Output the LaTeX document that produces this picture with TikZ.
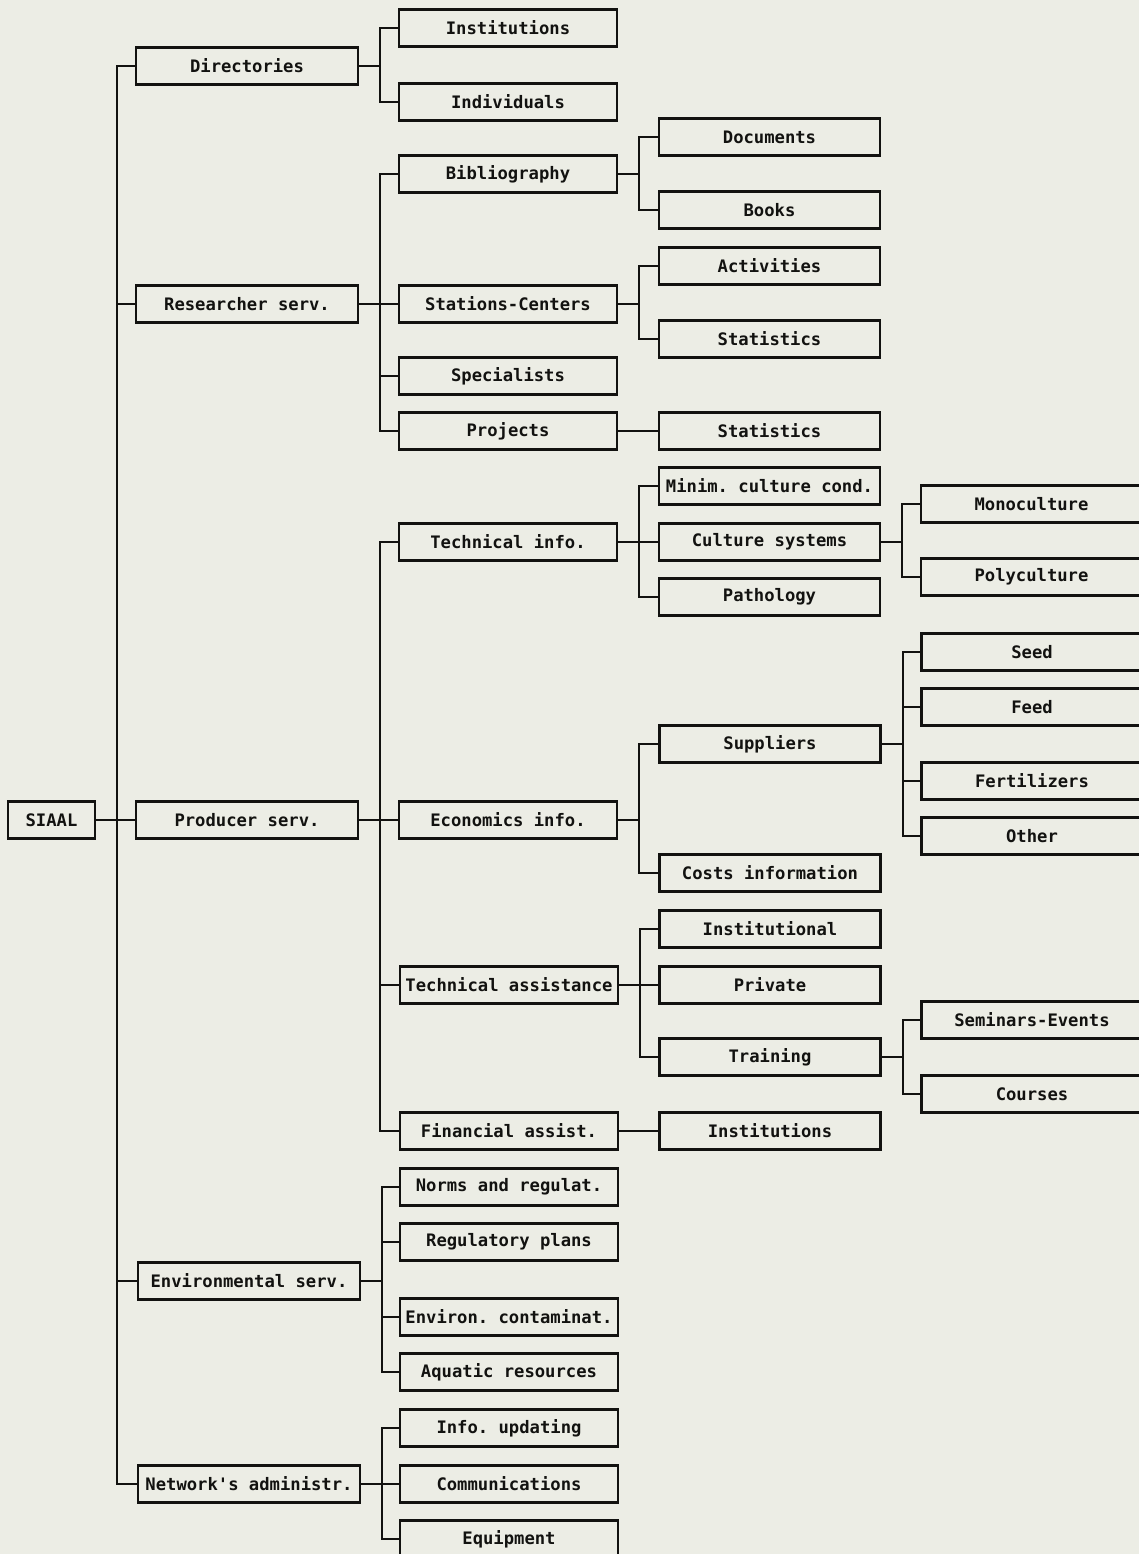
\documentclass[tikz,border=0pt]{standalone}
\usepackage{fontspec}
\setmonofont{DejaVu Sans Mono}
\definecolor{paper}{RGB}{236,237,229}
\definecolor{ink}{RGB}{18,18,16}
\begin{document}
\begin{tikzpicture}[x=0.5pt,y=-0.5pt,
  box/.style={draw=ink, line width=1.2pt, inner sep=0pt, minimum height=18.5pt,
    font=\ttfamily\bfseries\fontsize{8.6pt}{10pt}\selectfont, text=ink},
  root/.style={box, minimum width=43.5pt},
  lone/.style={box, minimum width=111pt},
  ltwo/.style={box, minimum width=109pt},
  lthree/.style={box, minimum width=110.5pt},
  lfour/.style={box, minimum width=110.5pt},
  link/.style={draw=ink, line width=1.2pt}]
\fill[paper] (0,0) rectangle (1139,1554);
\useasboundingbox (0,0) rectangle (1139,1554);

% root
\node[root] (siaal) at (51.5,820) {SIAAL};

% level 1
\node[lone] (dir) at (247,66) {Directories};
\node[lone] (res) at (247,304) {Researcher serv.};
\node[lone] (pro) at (247,820) {Producer serv.};
\node[lone] (env) at (249,1281) {Environmental serv.};
\node[lone] (net) at (249,1484) {Network's administr.};

% level 2
\node[ltwo] (inst) at (508,28) {Institutions};
\node[ltwo] (indiv) at (508,102) {Individuals};
\node[ltwo] (bib) at (508,174) {Bibliography};
\node[ltwo] (stat) at (508,304) {Stations-Centers};
\node[ltwo] (spec) at (508,376) {Specialists};
\node[ltwo] (proj) at (508,431) {Projects};
\node[ltwo] (techinfo) at (508,542) {Technical info.};
\node[ltwo] (econ) at (508,820) {Economics info.};
\node[ltwo] (techass) at (509,985) {Technical assistance};
\node[ltwo] (fin) at (509,1131) {Financial assist.};
\node[ltwo] (norms) at (509,1187) {Norms and regulat.};
\node[ltwo] (regpl) at (509,1242) {Regulatory plans};
\node[ltwo] (envc) at (509,1317) {Environ. contaminat.};
\node[ltwo] (aqua) at (509,1372) {Aquatic resources};
\node[ltwo] (upd) at (509,1428) {Info. updating};
\node[ltwo] (comm) at (509,1484) {Communications};
\node[ltwo] (equip) at (509,1539) {Equipment};

% level 3
\node[lthree] (docs) at (769.5,137) {Documents};
\node[lthree] (books) at (769.5,210) {Books};
\node[lthree] (act) at (769.5,266) {Activities};
\node[lthree] (stata) at (769.5,339) {Statistics};
\node[lthree] (statb) at (769.5,431) {Statistics};
\node[lthree] (minim) at (769.5,486) {Minim. culture cond.};
\node[lthree] (cult) at (769.5,542) {Culture systems};
\node[lthree] (path) at (769.5,597) {Pathology};
\node[lthree] (supp) at (770,744) {Suppliers};
\node[lthree] (costs) at (770,873) {Costs information};
\node[lthree] (instl) at (770,929) {Institutional};
\node[lthree] (priv) at (770,985) {Private};
\node[lthree] (train) at (770,1057) {Training};
\node[lthree] (instb) at (770,1131) {Institutions};

% level 4
\node[lfour] (mono) at (1031.5,504) {Monoculture};
\node[lfour] (poly) at (1031.5,577) {Polyculture};
\node[lfour] (seed) at (1032,652) {Seed};
\node[lfour] (feed) at (1032,707) {Feed};
\node[lfour] (fert) at (1032,781) {Fertilizers};
\node[lfour] (other) at (1032,836) {Other};
\node[lfour] (sem) at (1032,1020) {Seminars-Events};
\node[lfour] (cour) at (1032,1094) {Courses};

% connectors level 1
\foreach \c in {dir,res,pro,env,net}
  \draw[link] (siaal.east) -- ++(21,0) |- (\c.west);
% level 2
\foreach \c in {inst,indiv}
  \draw[link] (dir.east) -- ++(21,0) |- (\c.west);
\foreach \c in {bib,stat,spec,proj}
  \draw[link] (res.east) -- ++(21,0) |- (\c.west);
\foreach \c in {techinfo,econ,techass,fin}
  \draw[link] (pro.east) -- ++(21,0) |- (\c.west);
\foreach \c in {norms,regpl,envc,aqua}
  \draw[link] (env.east) -- ++(21,0) |- (\c.west);
\foreach \c in {upd,comm,equip}
  \draw[link] (net.east) -- ++(21,0) |- (\c.west);
% level 3
\foreach \c in {docs,books}
  \draw[link] (bib.east) -- ++(21,0) |- (\c.west);
\foreach \c in {act,stata}
  \draw[link] (stat.east) -- ++(21,0) |- (\c.west);
\draw[link] (proj.east) -- (statb.west);
\foreach \c in {minim,cult,path}
  \draw[link] (techinfo.east) -- ++(21,0) |- (\c.west);
\foreach \c in {supp,costs}
  \draw[link] (econ.east) -- ++(21,0) |- (\c.west);
\foreach \c in {instl,priv,train}
  \draw[link] (techass.east) -- ++(21,0) |- (\c.west);
\draw[link] (fin.east) -- (instb.west);
% level 4
\foreach \c in {mono,poly}
  \draw[link] (cult.east) -- ++(21,0) |- (\c.west);
\foreach \c in {seed,feed,fert,other}
  \draw[link] (supp.east) -- ++(21,0) |- (\c.west);
\foreach \c in {sem,cour}
  \draw[link] (train.east) -- ++(21,0) |- (\c.west);
\end{tikzpicture}
\end{document}
